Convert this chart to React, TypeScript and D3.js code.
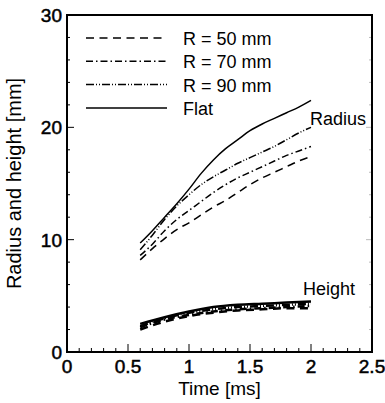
import React from 'react';
import * as d3 from 'd3';

const times = [0.6, 0.7, 0.8, 0.9, 1.0, 1.1, 1.2, 1.3, 1.4, 1.5, 1.6, 1.7, 1.8, 1.9, 2.0];
const radiusFlat = [9.7, 10.8, 12.0, 13.2, 14.5, 15.9, 17.1, 18.1, 18.9, 19.7, 20.3, 20.8, 21.3, 21.8, 22.4];
const radius90 = [9.1, 10.4, 11.8, 13.0, 14.0, 14.9, 15.6, 16.2, 16.8, 17.3, 17.8, 18.3, 18.9, 19.5, 20.0];
const radius70 = [8.6, 9.6, 10.8, 11.8, 12.6, 13.4, 14.2, 14.9, 15.5, 16.0, 16.5, 17.0, 17.5, 17.9, 18.3];
const radius50 = [8.2, 9.2, 10.1, 10.9, 11.5, 12.2, 12.9, 13.5, 14.2, 14.9, 15.5, 16.0, 16.5, 17.0, 17.4];

const heightTimes = [0.6, 0.8, 1.0, 1.2, 1.4, 1.6, 1.8, 2.0];
const heightFlat = [2.5, 3.1, 3.6, 4.0, 4.2, 4.3, 4.4, 4.5];
const height90 = [2.3, 3.0, 3.5, 3.8, 4.0, 4.1, 4.2, 4.3];
const height70 = [2.2, 2.9, 3.3, 3.6, 3.8, 3.9, 4.0, 4.1];
const height50 = [2.0, 2.7, 3.2, 3.5, 3.7, 3.8, 3.9, 3.9];

const seriesNames = ['R = 50 mm', 'R = 70 mm', 'R = 90 mm', 'Flat'];
const seriesDash = ['8,5.5', '7,3,1.5,3', '8,2,1,2,1,2', null];

const xTicks = [0, 0.5, 1, 1.5, 2, 2.5];
const yTicks = [0, 10, 20, 30];

const W = 385, H = 403;
const m = { left: 67, right: 13, top: 15, bottom: 51 };
const font = '"Liberation Sans", Arial, sans-serif';

export default function App() {
  const x = d3.scaleLinear().domain([0, 2.5]).range([m.left, W - m.right]);
  const y = d3.scaleLinear().domain([0, 30]).range([H - m.bottom, m.top]);
  const line = d3.line<[number, number]>().x(d => x(d[0])).y(d => y(d[1])).curve(d3.curveMonotoneX);

  const radius = [radius50, radius70, radius90, radiusFlat];
  const heights = [height50, height70, height90, heightFlat];
  const xMinor = d3.range(0, 2.501, 0.1);
  const yMinor = d3.range(0, 30.01, 2);

  return (
    <svg width={W} height={H} style={{ position: 'absolute', left: 0, top: 0, background: '#fff' }}>
      {/* ticks */}
      <g stroke="#000" strokeWidth={1}>
        {xMinor.map((t, i) => {
          const major = i % 5 === 0;
          return <line key={'xm' + i} x1={x(t)} x2={x(t)} y1={y(0)} y2={y(0) - (major ? 8 : 4)} />;
        })}
        {yMinor.map((t, i) => {
          const major = i % 5 === 0;
          return <line key={'ym' + i} x1={x(0)} x2={x(0) + (major ? 7 : 3)} y1={y(t)} y2={y(t)} />;
        })}
      </g>
      <g stroke="#bbb" strokeWidth={1}>
        {yMinor.map((t, i) => (
          <line key={'yr' + i} x1={x(2.5)} x2={x(2.5) - (i % 5 === 0 ? 6 : 3)} y1={y(t)} y2={y(t)} />
        ))}
      </g>
      {/* frame */}
      <rect x={x(0)} y={y(30)} width={x(2.5) - x(0)} height={y(0) - y(30)} fill="none" stroke="#000" strokeWidth={2} />

      {/* tick labels */}
      <g fontFamily={font} fontSize={19} fill="#000" stroke="#000" strokeWidth={0.5}>
        {xTicks.map(t => (
          <text key={'xt' + t} x={x(t)} y={y(0) + 21} textAnchor="middle">{t}</text>
        ))}
        {yTicks.map(t => (
          <text key={'yt' + t} x={x(0) - 5} y={y(t) + 7} textAnchor="end">{t}</text>
        ))}
      </g>

      {/* series */}
      <g fill="none" stroke="#000" strokeWidth={1.5}>
        {radius.map((vals, i) => (
          <path key={'r' + i} d={line(times.map((t, j) => [t, vals[j]]) as [number, number][]) || ''}
            strokeDasharray={seriesDash[i] || undefined} />
        ))}
        {heights.map((vals, i) => (
          <path key={'h' + i} d={line(heightTimes.map((t, j) => [t, vals[j]]) as [number, number][]) || ''}
            strokeWidth={2.5} strokeDasharray={seriesDash[i] || undefined} />
        ))}
      </g>

      {/* legend */}
      <g fontFamily={font} fontSize={18}>
        {seriesNames.map((name, i) => (
          <g key={name} transform={`translate(86,${38 + i * 23.3})`}>
            <line x1={0} x2={81} y1={0} y2={0} stroke="#000" strokeWidth={1.5} strokeDasharray={seriesDash[i] || undefined} />
            <text x={97} y={7} fill="#000">{name}</text>
          </g>
        ))}
      </g>

      <text x={310} y={125} fontFamily={font} fontSize={18}>Radius</text>
      <text x={303} y={295} fontFamily={font} fontSize={18}>Height</text>

      {/* axis titles */}
      <text x={(x(0) + x(2.5)) / 2} y={395} textAnchor="middle" fontFamily={font} fontSize={19}>Time [ms]</text>
      <text transform={`translate(21,${(y(0) + y(30)) / 2}) rotate(-90)`} textAnchor="middle" fontFamily={font} fontSize={20}>
        Radius and height [mm]
      </text>
    </svg>
  );
}
